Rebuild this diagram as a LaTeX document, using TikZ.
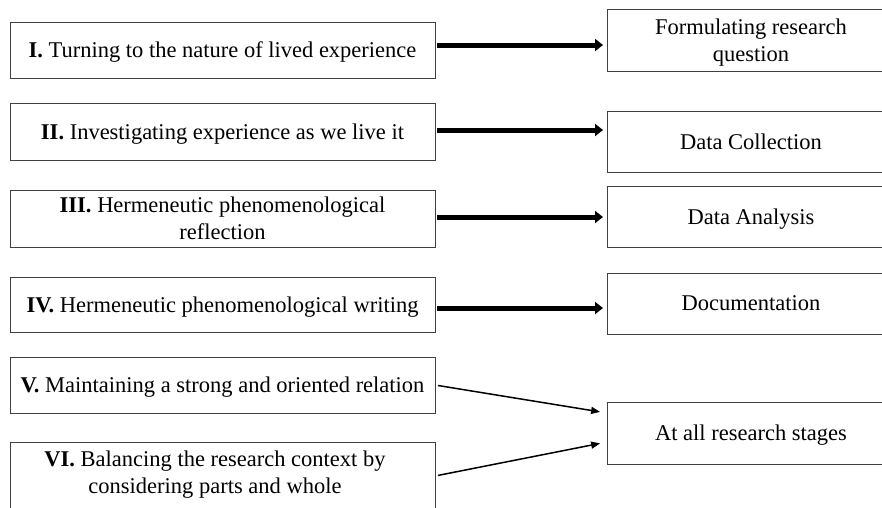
\documentclass[tikz,border=0pt]{standalone}
\usepackage{fontspec}
\setmainfont{Liberation Serif}
\usetikzlibrary{arrows.meta}
\begin{document}
\begin{tikzpicture}[x=1pt,y=-1pt,
  box/.style={draw=black!75, line width=0.9pt, inner sep=0pt, outer sep=0pt,
    align=center, text depth=0pt, font=\fontsize{22.5}{27}\selectfont},
  lbox/.style={box, minimum width=425pt},
  rbox/.style={box, minimum width=288pt},
  plain/.style={inner sep=0pt, align=center, text depth=0pt,
    font=\fontsize{22.5}{27}\selectfont},
  bigarrow/.style={line width=5pt, -{Triangle[length=8pt,width=12pt]},
    shorten <=2pt, shorten >=4pt},
  thinarrow/.style={line width=1.5pt, -{Triangle[length=9pt,width=7pt]},
    shorten <=3pt, shorten >=7pt}]
\useasboundingbox (0,0) rectangle (882,507);
\clip (0,0) rectangle (882,507);

% stages of the method
\node[lbox, minimum height=56pt] (b1) at (222.5,50)
  {\textbf{I.} Turning to the nature of lived experience};
\node[lbox, minimum height=57pt] (b2) at (222.5,131.5)
  {\textbf{II.} Investigating experience as we live it};
\node[lbox, minimum height=57pt] (b3) at (222.5,218.5)
  {\textbf{III.} Hermeneutic phenomenological\\reflection};
\node[lbox, minimum height=55pt] (b4) at (222.5,304.5)
  {\textbf{IV.} Hermeneutic phenomenological writing};
\node[lbox, minimum height=56pt] (b5) at (222.5,385)
  {\textbf{V.} Maintaining a strong and oriented relation};
\node[lbox, minimum height=90pt, anchor=north] (b6) at (222.5,442) {};
\node[plain] (b6text) at (215,472.5)
  {\textbf{VI.} Balancing the research context by\\considering parts and whole};

% research phases
\node[rbox, minimum height=62pt] (f)  at (751,40)
  {Formulating research\\question};
\node[rbox, minimum height=61pt] (dc) at (751,141.5) {Data Collection};
\node[rbox, minimum height=61pt] (da) at (751,216.5) {Data Analysis};
\node[rbox, minimum height=61pt] (doc) at (751,303.5) {Documentation};
\node[rbox, minimum height=62pt] (all) at (751,433) {At all research stages};

% one-to-one links
\coordinate (a1) at ([yshift=5pt]b1.east);
\coordinate (a2) at ([yshift=1.5pt]b2.east);
\coordinate (a3) at ([yshift=1.5pt]b3.east);
\coordinate (a4) at ([yshift=-3.5pt]b4.east);
\draw[bigarrow] (a1) -- (a1 -| f.west);
\draw[bigarrow] (a2) -- (a2 -| dc.west);
\draw[bigarrow] (a3) -- (a3 -| da.west);
\draw[bigarrow] (a4) -- (a4 -| doc.west);

% links that hold throughout
\draw[thinarrow] (b5.east) -- ([yshift=20pt]all.west);
\draw[thinarrow] ([yshift=-34pt]b6.north east) -- ([yshift=-9pt]all.west);
\end{tikzpicture}
\end{document}
